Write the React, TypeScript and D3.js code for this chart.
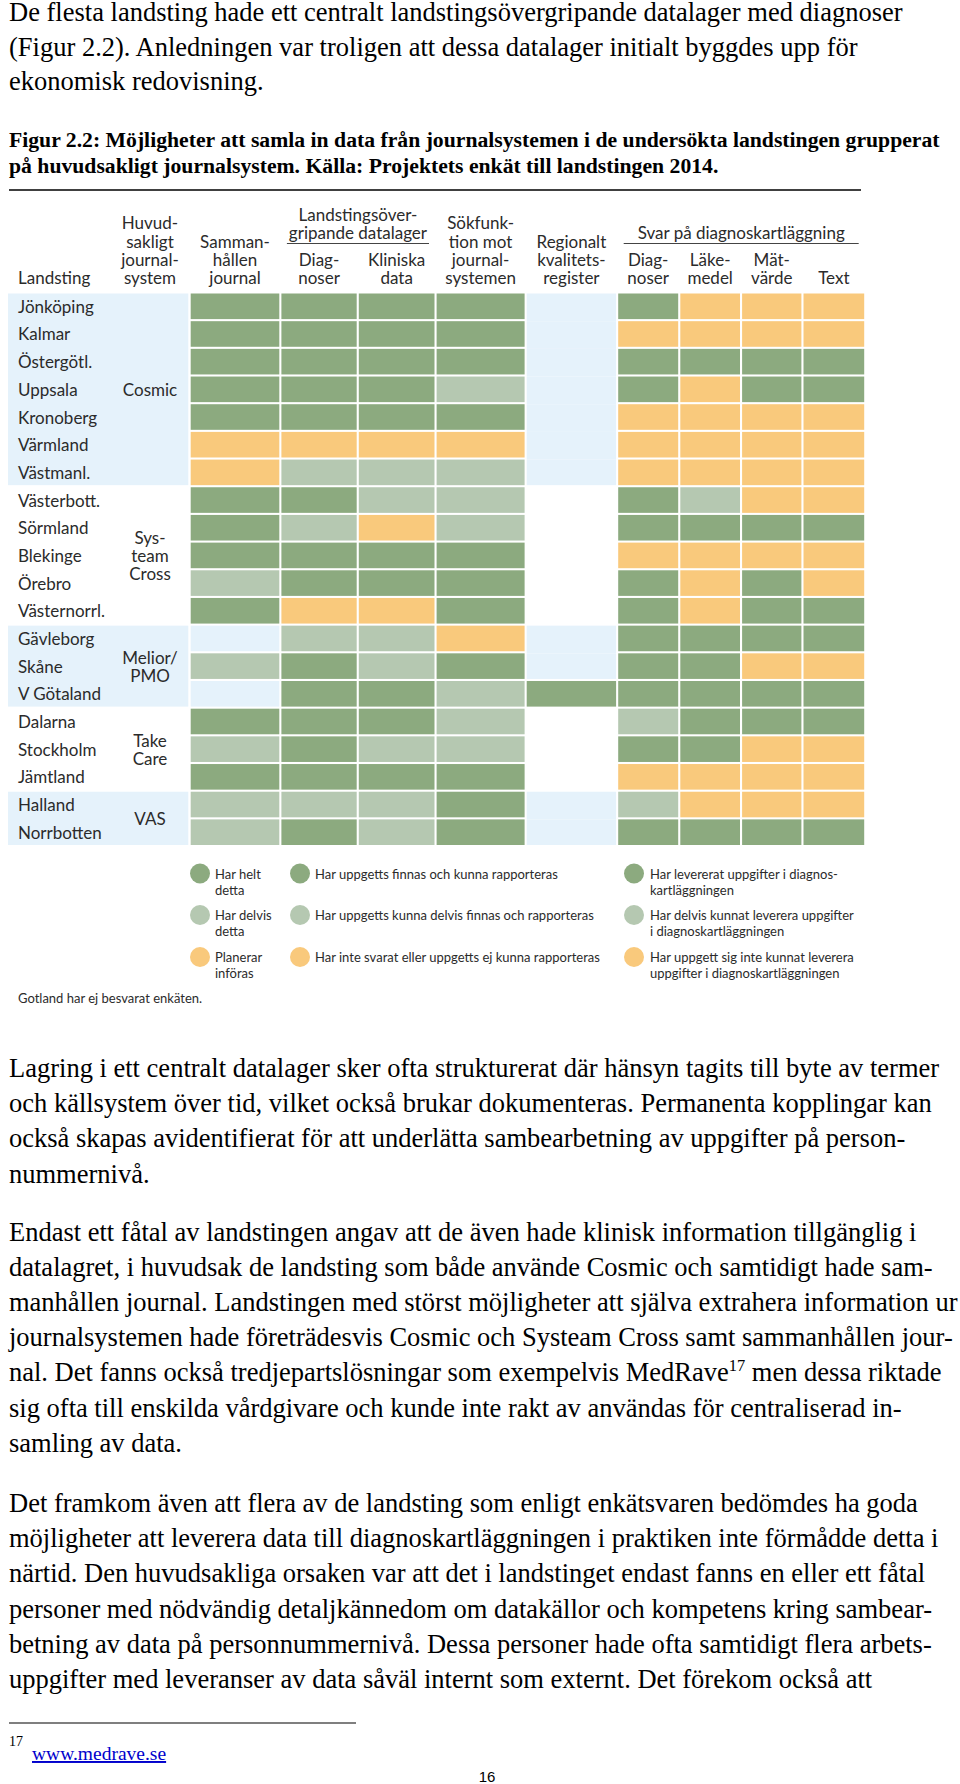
import React from "react";
import * as d3 from "d3";

// ---------- DATA ----------
const landsting = [
  "Jönköping", "Kalmar", "Östergötl.", "Uppsala", "Kronoberg", "Värmland", "Västmanl.",
  "Västerbott.", "Sörmland", "Blekinge", "Örebro", "Västernorrl.",
  "Gävleborg", "Skåne", "V Götaland",
  "Dalarna", "Stockholm", "Jämtland",
  "Halland", "Norrbotten",
];

// H = har helt / levererat (dark green), D = delvis (light green), P = planerar / ej (orange), "" = blank
const sammanhallen = ["H","H","H","H","H","P","P","H","H","H","D","H","","D","","H","D","H","D","D"];
const lagerDiagnoser = ["H","H","H","H","H","P","D","H","D","H","H","P","D","H","H","H","H","H","D","H"];
const lagerKliniska = ["H","H","H","H","H","P","D","D","P","H","H","P","D","D","H","H","D","H","D","D"];
const sokfunktion = ["H","H","H","D","H","P","D","D","D","H","H","H","P","H","D","D","D","H","H","H"];
const regionaltRegister = ["","","","","","","","","","","","","","","H","","","","",""];
const svarDiagnoser = ["H","P","H","H","P","P","P","H","H","P","H","H","H","H","H","D","H","P","D","H"];
const svarLakemedel = ["P","P","H","P","P","P","P","D","H","P","P","P","H","H","H","H","H","P","P","H"];
const svarMatvarde = ["P","P","H","H","P","P","P","P","H","P","H","H","H","P","H","H","P","P","P","H"];
const svarText = ["P","P","H","H","P","P","P","P","H","P","P","H","H","P","H","H","P","P","P","H"];

const columnData = [
  sammanhallen, lagerDiagnoser, lagerKliniska, sokfunktion, regionaltRegister,
  svarDiagnoser, svarLakemedel, svarMatvarde, svarText,
];

const columnHeaders = [
  ["Samman-", "hållen", "journal"],
  ["Diag-", "noser"],
  ["Kliniska", "data"],
  ["Sökfunk-", "tion mot", "journal-", "systemen"],
  ["Regionalt", "kvalitets-", "register"],
  ["Diag-", "noser"],
  ["Läke-", "medel"],
  ["Mät-", "värde"],
  ["Text"],
];

const groupHeaders = [
  { lines: ["Landstingsöver-", "gripande datalager"], from: 1, to: 2 },
  { lines: ["Svar på diagnoskartläggning"], from: 5, to: 8 },
];

const systemHeader = ["Huvud-", "sakligt", "journal-", "system"];
const systems = [
  { lines: ["Cosmic"], from: 0, to: 6, shaded: true },
  { lines: ["Sys-", "team", "Cross"], from: 7, to: 11, shaded: false },
  { lines: ["Melior/", "PMO"], from: 12, to: 14, shaded: true },
  { lines: ["Take", "Care"], from: 15, to: 17, shaded: false },
  { lines: ["VAS"], from: 18, to: 19, shaded: true },
];

const legendCol1 = [["Har helt", "detta"], ["Har delvis", "detta"], ["Planerar", "införas"]];
const legendCol2 = [
  ["Har uppgetts finnas och kunna rapporteras"],
  ["Har uppgetts kunna delvis finnas och rapporteras"],
  ["Har inte svarat eller uppgetts ej kunna rapporteras"],
];
const legendCol3 = [
  ["Har levererat uppgifter i diagnos-", "kartläggningen"],
  ["Har delvis kunnat leverera uppgifter", "i diagnoskartläggningen"],
  ["Har uppgett sig inte kunnat leverera", "uppgifter i diagnoskartläggningen"],
];
const legendCodes = ["H", "D", "P"];

const introLines = [
  "De flesta landsting hade ett centralt landstingsövergripande datalager med diagnoser",
  "(Figur 2.2). Anledningen var troligen att dessa datalager initialt byggdes upp för",
  "ekonomisk redovisning.",
];
const captionLines = [
  "Figur 2.2: Möjligheter att samla in data från journalsystemen i de undersökta landstingen grupperat",
  "på huvudsakligt journalsystem. Källa: Projektets enkät till landstingen 2014.",
];
const paraA = [
  "Lagring i ett centralt datalager sker ofta strukturerat där hänsyn tagits till byte av termer",
  "och källsystem över tid, vilket också brukar dokumenteras. Permanenta kopplingar kan",
  "också skapas avidentifierat för att underlätta sambearbetning av uppgifter på person-",
  "nummernivå.",
];
const paraB = [
  "Endast ett fåtal av landstingen angav att de även hade klinisk information tillgänglig i",
  "datalagret, i huvudsak de landsting som både använde Cosmic och samtidigt hade sam-",
  "manhållen journal. Landstingen med störst möjligheter att själva extrahera information ur",
  "journalsystemen hade företrädesvis Cosmic och Systeam Cross samt sammanhållen jour-",
  "nal. Det fanns också tredjepartslösningar som exempelvis MedRave|17| men dessa riktade",
  "sig ofta till enskilda vårdgivare och kunde inte rakt av användas för centraliserad in-",
  "samling av data.",
];
const paraC = [
  "Det framkom även att flera av de landsting som enligt enkätsvaren bedömdes ha goda",
  "möjligheter att leverera data till diagnoskartläggningen i praktiken inte förmådde detta i",
  "närtid. Den huvudsakliga orsaken var att det i landstinget endast fanns en eller ett fåtal",
  "personer med nödvändig detaljkännedom om datakällor och kompetens kring sambear-",
  "betning av data på personnummernivå. Dessa personer hade ofta samtidigt flera arbets-",
  "uppgifter med leveranser av data såväl internt som externt. Det förekom också att",
];

// ---------- LAYOUT / STYLE ----------
const W = 960;
const H = 1784;
const COLORS: Record<string, string> = { H: "#8caa7f", D: "#b5c8b1", P: "#f9c97c" };
const BLUE = "#e5f2fb";
const INK = "#2b2b2b";
const SANS = "Lato, 'Open Sans', sans-serif";
const SERIF = "'Liberation Serif', 'Times New Roman', serif";
const BODY_SIZE = 26.5;

const colWidths = [88.6, 75.3, 75.7, 88, 89.4, 60, 59.7, 59.3, 60.7];
const colGap = 2.1;
const gridX0 = 190.7;

export default function App() {
  const y = d3.scaleBand<string>().domain(landsting).range([293.5, 845]).paddingInner(0.075).paddingOuter(0);
  const step = y.step();
  const bw = y.bandwidth();

  const starts: number[] = [];
  colWidths.reduce((acc, w) => {
    starts.push(acc);
    return acc + w + colGap;
  }, gridX0);
  const colX = d3.scaleOrdinal<number, number>().domain(d3.range(colWidths.length)).range(starts);
  const colW = (i: number) => colWidths[i];
  const colCenter = (i: number) => colX(i) + colW(i) / 2;

  const groupOfRow = (r: number) => systems.find((g) => r >= g.from && r <= g.to)!;

  const headerBase = 284;
  const headerLh = 18.2;
  const headerFont = 17;

  const cells: JSX.Element[] = [];
  columnData.forEach((col, ci) => {
    col.forEach((v, ri) => {
      const name = landsting[ri];
      const top = y(name)!;
      if (v) {
        cells.push(
          <rect key={`c${ci}-${ri}`} x={colX(ci)} y={top} width={colW(ci)} height={bw} fill={COLORS[v]} />
        );
      } else {
        const g = groupOfRow(ri);
        if (g.shaded) {
          const nextBlank = ri < g.to && !col[ri + 1];
          cells.push(
            <rect key={`b${ci}-${ri}`} x={colX(ci)} y={top} width={colW(ci)} height={nextBlank ? step : bw} fill={BLUE} />
          );
        }
      }
    });
  });

  const renderLines = (lines: string[], base: number, lh: number, size: number, weight = "normal") =>
    lines.map((ln, i) => {
      const parts = ln.split("|");
      return (
        <text
          key={i}
          x={9}
          y={base + i * lh}
          fontFamily={SERIF}
          fontSize={size}
          fontWeight={weight}
          fill="#000"
        >
          {parts.length === 1
            ? ln
            : [
                <tspan key="a">{parts[0]}</tspan>,
                <tspan key="b" fontSize={size * 0.62} dy={-10}>{parts[1]}</tspan>,
                <tspan key="c" dy={10}>{parts[2]}</tspan>,
              ]}
        </text>
      );
    });

  const legendY = [873.5, 915, 957];

  return (
    <svg
      width={W}
      height={H}
      viewBox={`0 0 ${W} ${H}`}
      style={{ position: "absolute", left: 0, top: 0, background: "#fff" }}
    >
      <rect width={W} height={H} fill="#fff" />

      {/* Intro paragraph and caption */}
      {renderLines(introLines, 21, 34.5, BODY_SIZE)}
      {renderLines(captionLines, 147, 25.5, 21.7, "bold")}
      <line x1={9} x2={861} y1={190} y2={190} stroke="#000" strokeWidth={1.5} />

      {/* Shaded system groups (label area) */}
      {systems.filter((g) => g.shaded).map((g, i) => (
        <rect
          key={`g${i}`}
          x={8}
          y={y(landsting[g.from])!}
          width={180.3}
          height={y(landsting[g.to])! + bw - y(landsting[g.from])!}
          fill={BLUE}
        />
      ))}

      {/* Cells */}
      {cells}

      {/* Header */}
      <g fontFamily={SANS} fontSize={headerFont} fill={INK}>
        <text x={18} y={headerBase}>Landsting</text>
        {systemHeader.map((t, i) => (
          <text key={`sh${i}`} x={150} y={headerBase - (systemHeader.length - 1 - i) * headerLh} textAnchor="middle">{t}</text>
        ))}
        {columnHeaders.map((lines, ci) =>
          lines.map((t, i) => (
            <text
              key={`ch${ci}-${i}`}
              x={colCenter(ci)}
              y={headerBase - (lines.length - 1 - i) * headerLh}
              textAnchor="middle"
            >
              {t}
            </text>
          ))
        )}
        {groupHeaders.map((g, gi) => {
          const x1 = colX(g.from);
          const x2 = colX(g.to) + colW(g.to);
          const cx = (x1 + x2) / 2;
          return (
            <g key={`gh${gi}`}>
              {g.lines.map((t, i) => (
                <text key={i} x={cx} y={238.5 - (g.lines.length - 1 - i) * 18} textAnchor="middle">{t}</text>
              ))}
              <line x1={x1 + 5.5} x2={x2 - 5.5} y1={243.5} y2={243.5} stroke="#444" strokeWidth={1} />
            </g>
          );
        })}
      </g>

      {/* Row labels */}
      <g fontFamily={SANS} fontSize={headerFont} fill={INK}>
        {landsting.map((n) => (
          <text key={n} x={18} y={y(n)! + bw / 2} dominantBaseline="central">{n}</text>
        ))}
        {systems.map((g, gi) => {
          const top = y(landsting[g.from])!;
          const bot = y(landsting[g.to])! + bw;
          const cy = (top + bot) / 2;
          const lh = 18;
          return g.lines.map((t, i) => (
            <text
              key={`s${gi}-${i}`}
              x={150}
              y={cy + (i - (g.lines.length - 1) / 2) * lh}
              textAnchor="middle"
              dominantBaseline="central"
            >
              {t}
            </text>
          ));
        })}
      </g>

      {/* Legend */}
      <g fontFamily={SANS} fontSize={13} fill={INK}>
        {legendCodes.map((c, i) => (
          <g key={`l${i}`}>
            <circle cx={200} cy={legendY[i]} r={10} fill={COLORS[c]} />
            {legendCol1[i].map((t, j) => (
              <text key={j} x={215} y={legendY[i] + 5 + j * 16}>{t}</text>
            ))}
            <circle cx={300} cy={legendY[i]} r={10} fill={COLORS[c]} />
            {legendCol2[i].map((t, j) => (
              <text key={`b${j}`} x={315} y={legendY[i] + 5 + j * 16}>{t}</text>
            ))}
            <circle cx={634} cy={legendY[i]} r={10} fill={COLORS[c]} />
            {legendCol3[i].map((t, j) => (
              <text key={`c${j}`} x={650} y={legendY[i] + 5 + j * 16}>{t}</text>
            ))}
          </g>
        ))}
        <text x={18} y={1003}>Gotland har ej besvarat enkäten.</text>
      </g>

      {/* Body paragraphs */}
      {renderLines(paraA, 1077, 35.2, BODY_SIZE)}
      {renderLines(paraB, 1240.5, 35.2, BODY_SIZE)}
      {renderLines(paraC, 1512, 35.2, BODY_SIZE)}

      {/* Footnote */}
      <line x1={9} x2={356} y1={1723} y2={1723} stroke="#000" strokeWidth={1.2} />
      <text x={9} y={1746} fontFamily={SERIF} fontSize={14} fill="#000">17</text>
      <text
        x={32}
        y={1760}
        fontFamily={SERIF}
        fontSize={19.5}
        fill="#0000cc"
        textDecoration="underline"
      >
        www.medrave.se
      </text>
      <text x={487} y={1782} textAnchor="middle" fontFamily="'Liberation Sans', Arial, sans-serif" fontSize={15} fill="#000">16</text>
    </svg>
  );
}
